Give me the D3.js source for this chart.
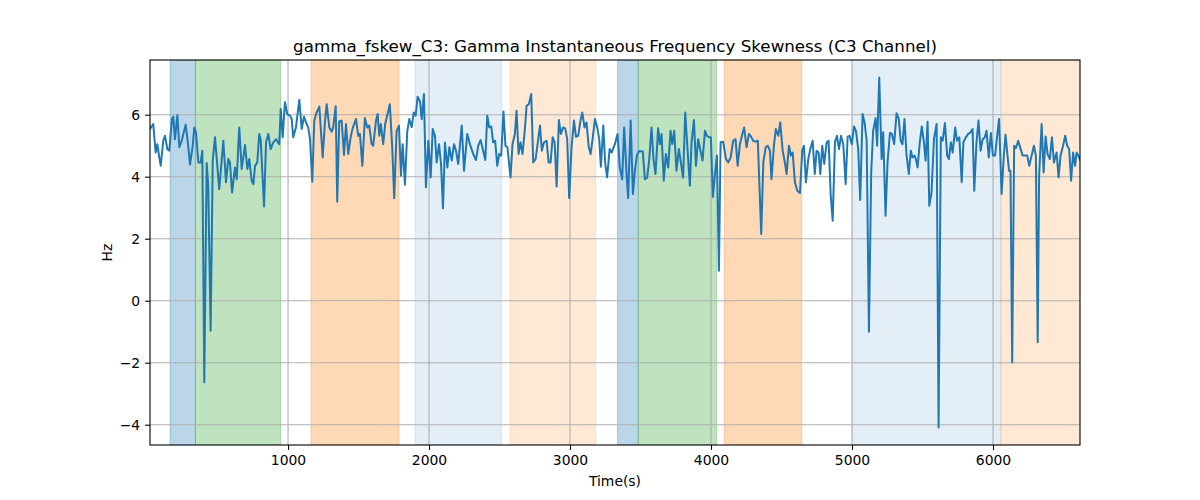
<!DOCTYPE html>
<html>
<head>
<meta charset="utf-8">
<script src="https://cdn.jsdelivr.net/npm/d3@7"></script>
<style>
  html, body { margin: 0; padding: 0; background: #fff; }
  svg { display: block; font-family: "DejaVu Sans", sans-serif; }
</style>
</head>
<body>
<svg id="chart" width="1200" height="500"></svg>
<script>
// ---- data ----
const times = [21,44,61,73,85,97,115,127,144,158,177,186,198,215,229,246,274,288,305,324,335,347,364,381,392,
406,423,434,451,466,482,512,541,560,576,588,603,624,636,654,671,695,711,725,742,754,766,782,796,806,830,844,860,877,895,915,938,948,962,978,995,1014,1026,1037,1056,1080,1097,1113,1132,1143,1156,1172,1186,1203,1222,1246,1262,1274,1293,1310,1320,1338,1349,1363,1380,1397,1411,1427,1444,1458,1482,1498,1510,1527,1545,1562,1576,1593,1604,1624,1636,1647,
1658,1675,1689,1706,1722,1739,1753,1770,1787,1801,1813,1829,1846,1860,1877,1891,1905,1919,1936,1948,1964,1978,1995,2012,2026,2042,2054,2071,2085,2099,2113,2130,2144,2161,2177,2191,2207,
2232,2248,2271,2290,2314,2333,2349,2366,2384,2399,2413,2427,2441,2455,2469,2484,2498,2512,2528,2542,2556,2578,2592,2609,2621,2635,2649,2663,2680,2692,2708,2725,2739,2756,2770,2787,2800,2815,2834,2848,2862,2877,2891,2905,2921,2935,2952,2966,2980,2994,3011,3028,3042,3058,3075,3087,3103,3117,3133,3146,3160,3177,3193,3207,3219,3236,3249,3263,3281,3295,
3318,3337,3353,3370,3384,3401,3412,3430,3446,3460,3474,3488,3516,3531,3547,3561,3578,3592,3606,3625,3637,3649,3665,3680,3696,3713,3725,3739,3755,3772,3786,3802,3817,3834,3850,3862,3879,3893,3909,3923,3940,3957,3971,3985,3999,4013,4028,4042,4056,4068,4086,4106,4122,4139,4157,4174,4189,4205,4221,4235,4252,4269,4283,4299,4316,4332,4356,4371,4388,4402,4418,4429,4446,4460,4477,4491,4508,4524,4536,4553,4567,4579,4595,4612,4631,4647,4659,4673,4690,4704,4721,4736,4749,4763,4775,4789,4803,4820,4834,4849,4863,4879,4893,4908,4922,4938,4955,4969,4983,4998,5014,5028,5044,5058,5075,5089,5104,5120,5136,5150,5167,5178,5193,5210,5221,5238,5252,5269,5283,5299,5316,5332,5345,5358,5372,5387,5403,5417,5429,5443,5453,5465,5481,5495,5510,5522,5536,5548,5564,5581,5600,5614,5630,5643,5659,5675,5687,5701,5714,5732,5744,5761,5778,5790,5807,5824,5841,5855,5867,5883,5897,5912,5926,5942,5954,5970,5985,5999,6015,6029,6043,6061,6077,6089,6103,6114,6124,6136,6150,6162,6179,6196,6210,6226,6243,6257,6274,6290,6304,6317,6327,6345,6359,6373,6387,6403,6418,6432,6451,6465,6479,6497,6512,6526,6540,6554,6568,6582,6593,6605,6617];

const values = [5.54,5.70,4.78,5.05,4.68,4.35,5.16,5.32,4.89,4.84,5.86,5.94,5.21,5.99,4.95,5.16,5.68,5.16,4.39,5.0,5.59,5.43,4.46,4.46,4.84,
-2.63,4.44,3.71,-0.97,4.52,5.27,3.6,5.16,3.82,4.57,4.46,3.49,4.30,3.92,5.59,4.25,5.02,4.25,4.57,3.87,3.76,4.35,4.46,5.38,5.2,3.04,5.11,5.38,4.89,5.1,5.21,5.05,6.18,5.27,6.4,6.02,5.97,5.86,5.27,5.59,6.48,5.54,5.94,5.70,5.6,5.21,3.84,5.81,6.07,6.26,4.62,5.78,6.34,5.59,5.45,5.59,6.27,3.19,5.78,5.81,4.70,5.70,4.73,5.27,5.56,5.86,5.32,5.38,4.35,5.89,5.59,5.65,5.05,5.0,5.81,6.02,5.32,
5.7,5.05,5.7,6.02,6.34,4.95,3.31,5.48,5.65,4.03,5.05,3.74,5.48,5.86,5.6,6.07,5.97,6.58,6.43,5.86,6.67,3.66,5.16,3.98,5.54,5.32,4.46,5.05,4.41,2.98,5.10,4.30,4.95,4.52,5.05,4.84,4.41,
5.65,4.19,5.38,5.05,4.73,4.54,5.0,5.18,4.84,4.54,5.97,5.59,5.62,5.11,5.16,4.35,4.73,4.68,6.10,5.0,4.95,3.98,5.05,5.38,6.13,4.73,5.11,4.73,5.54,6.29,6.34,6.67,4.46,4.57,5.05,5.65,4.84,5.11,5.16,4.46,4.46,5.27,5.11,3.68,5.83,5.38,5.59,5.56,5.21,3.31,4.95,5.81,5.29,5.32,5.83,6.07,5.59,5.75,4.95,4.73,5.21,5.86,5.59,5.21,4.32,5.65,4.46,3.98,4.89,4.78,
5.05,5.38,4.30,3.92,5.59,4.09,3.31,5.81,3.44,4.19,4.68,4.82,4.82,3.92,3.97,4.52,5.59,4.57,4.09,5.56,5.05,5.38,3.87,4.73,4.30,5.48,5.05,5.48,4.19,4.89,4.46,3.97,6.07,4.84,3.71,5.11,5.83,4.35,5.21,4.89,4.52,5.48,5.32,5.27,5.27,3.35,4.09,4.68,0.97,5.11,5.13,4.57,4.46,4.62,5.16,5.21,4.35,5.05,5.35,5.59,4.95,5.38,5.30,5.16,5.13,5.16,2.15,4.46,4.95,5.0,4.84,3.92,5.0,5.54,5.32,5.75,4.84,4.46,4.09,5.0,4.68,4.78,3.82,3.55,3.47,4.84,5.0,3.82,4.57,4.89,5.16,4.09,4.84,4.78,4.09,5.0,4.41,5.11,5.16,3.39,2.58,5.11,5.32,4.89,5.32,5.05,3.76,5.29,5.32,5.05,5.62,5.48,4.89,3.25,6.02,5.75,5.16,-1.0,4.14,5.48,5.89,5.0,7.2,4.57,5.43,2.74,4.46,5.41,5.38,5.05,6.05,5.86,5.16,5.05,5.86,4.68,4.09,4.84,4.62,4.68,4.57,4.30,5.11,5.62,5.1,4.52,5.77,3.06,3.49,5.21,5.70,-4.09,5.27,5.16,5.73,4.68,4.57,5.11,4.78,5.59,5.16,5.27,3.82,5.11,5.27,5.38,5.43,5.54,3.55,5.11,5.81,4.84,5.2,5.27,5.48,4.62,5.41,4.68,4.68,5.3,5.86,3.44,4.70,5.35,4.68,4.19,4.19,-1.99,5.0,4.92,5.16,4.89,4.68,4.68,4.68,4.35,4.68,5.0,4.68,-1.34,4.03,5.70,4.14,5.3,4.73,4.57,5.27,4.46,4.78,3.98,4.68,5.0,5.32,5.0,4.89,3.87,4.78,4.35,4.78,4.68,4.55];

// shaded phases: start, end, colour, opacity
const bandStarts = [163, 343, 1163, 1900, 2574, 3337, 3484, 4094, 5002, 6056];
const bandEnds   = [343, 948, 1787, 2515, 3182, 3484, 4040, 4643, 6056, 6640];
const bandColors = ["#1f77b4","#2ca02c","#ff7f0e","#1f77b4","#ff7f0e","#1f77b4","#2ca02c","#ff7f0e","#1f77b4","#ff7f0e"];
const bandAlphas = [0.3, 0.3, 0.3, 0.12, 0.18, 0.3, 0.3, 0.3, 0.12, 0.18];

const xTicks = [1000, 2000, 3000, 4000, 5000, 6000];
const yTicks = [-4, -2, 0, 2, 4, 6];

const titleText = "gamma_fskew_C3: Gamma Instantaneous Frequency Skewness (C3 Channel)";
const xLabel = "Time(s)";
const yLabel = "Hz";

// ---- layout ----
const W = 1200, H = 500;
const m = { left: 150, right: 1080, top: 60, bottom: 445 };

const svg = d3.select("#chart");

const x = d3.scaleLinear().domain(d3.extent(times)).range([m.left, m.right]);
const [vmin, vmax] = d3.extent(values);
const pad = (vmax - vmin) * 0.05;
const y = d3.scaleLinear().domain([vmin - pad, vmax + pad]).range([m.bottom, m.top]);

svg.append("defs").append("clipPath").attr("id", "plotclip")
  .append("rect").attr("x", m.left).attr("y", m.top)
  .attr("width", m.right - m.left).attr("height", m.bottom - m.top);

const plot = svg.append("g").attr("clip-path", "url(#plotclip)");

// bands
plot.selectAll("rect.band").data(bandStarts.map((s, i) => ({ s, e: bandEnds[i], c: bandColors[i], a: bandAlphas[i] })))
  .enter().append("rect").attr("class", "band")
  .attr("x", d => x(d.s)).attr("width", d => x(d.e) - x(d.s))
  .attr("y", m.top).attr("height", m.bottom - m.top)
  .attr("fill", d => d.c).attr("fill-opacity", d => d.a)
  .attr("stroke", d => d.c).attr("stroke-opacity", d => d.a).attr("stroke-width", 1);

// grid
plot.selectAll("line.gx").data(xTicks).enter().append("line")
  .attr("x1", d => x(d)).attr("x2", d => x(d))
  .attr("y1", m.top).attr("y2", m.bottom)
  .attr("stroke", "#b0b0b0").attr("stroke-width", 1.1);
plot.selectAll("line.gy").data(yTicks).enter().append("line")
  .attr("y1", d => y(d)).attr("y2", d => y(d))
  .attr("x1", m.left).attr("x2", m.right)
  .attr("stroke", "#b0b0b0").attr("stroke-width", 1.1);

// line
const line = d3.line().x((d, i) => x(times[i])).y(d => y(d));
plot.append("path").datum(values)
  .attr("d", line).attr("fill", "none")
  .attr("stroke", "#1f77b4").attr("stroke-width", 2)
  .attr("stroke-linejoin", "round").attr("stroke-linecap", "square");

// axes
const xAxis = d3.axisBottom(x).tickValues(xTicks).tickSize(4.9).tickPadding(4.9).tickFormat(d3.format("d"));
const yAxis = d3.axisLeft(y).tickValues(yTicks).tickSize(4.9).tickPadding(4.9)
  .tickFormat(d => d < 0 ? "\u2212" + Math.abs(d) : String(d));

const gx = svg.append("g").attr("transform", `translate(0,${m.bottom})`).call(xAxis);
const gy = svg.append("g").attr("transform", `translate(${m.left},0)`).call(yAxis);
[gx, gy].forEach(g => {
  g.select(".domain").remove();
  g.selectAll("line").attr("stroke", "#000").attr("stroke-width", 1.1);
  g.selectAll("text").attr("fill", "#000").style("font-size", "13.9px").style("font-family", "DejaVu Sans, sans-serif");
});

// frame
svg.append("rect").attr("x", m.left).attr("y", m.top)
  .attr("width", m.right - m.left).attr("height", m.bottom - m.top)
  .attr("fill", "none").attr("stroke", "#000").attr("stroke-width", 1.1);

// labels
svg.append("text").attr("x", (m.left + m.right) / 2).attr("y", 52)
  .attr("text-anchor", "middle").style("font-size", "16.7px").attr("fill", "#000")
  .text(titleText);
svg.append("text").attr("x", (m.left + m.right) / 2).attr("y", 486)
  .attr("text-anchor", "middle").style("font-size", "13.9px").attr("fill", "#000")
  .text(xLabel);
svg.append("text").attr("transform", `translate(112,${(m.top + m.bottom) / 2}) rotate(-90)`)
  .attr("text-anchor", "middle").style("font-size", "13.9px").attr("fill", "#000")
  .text(yLabel);
</script>
</body>
</html>
